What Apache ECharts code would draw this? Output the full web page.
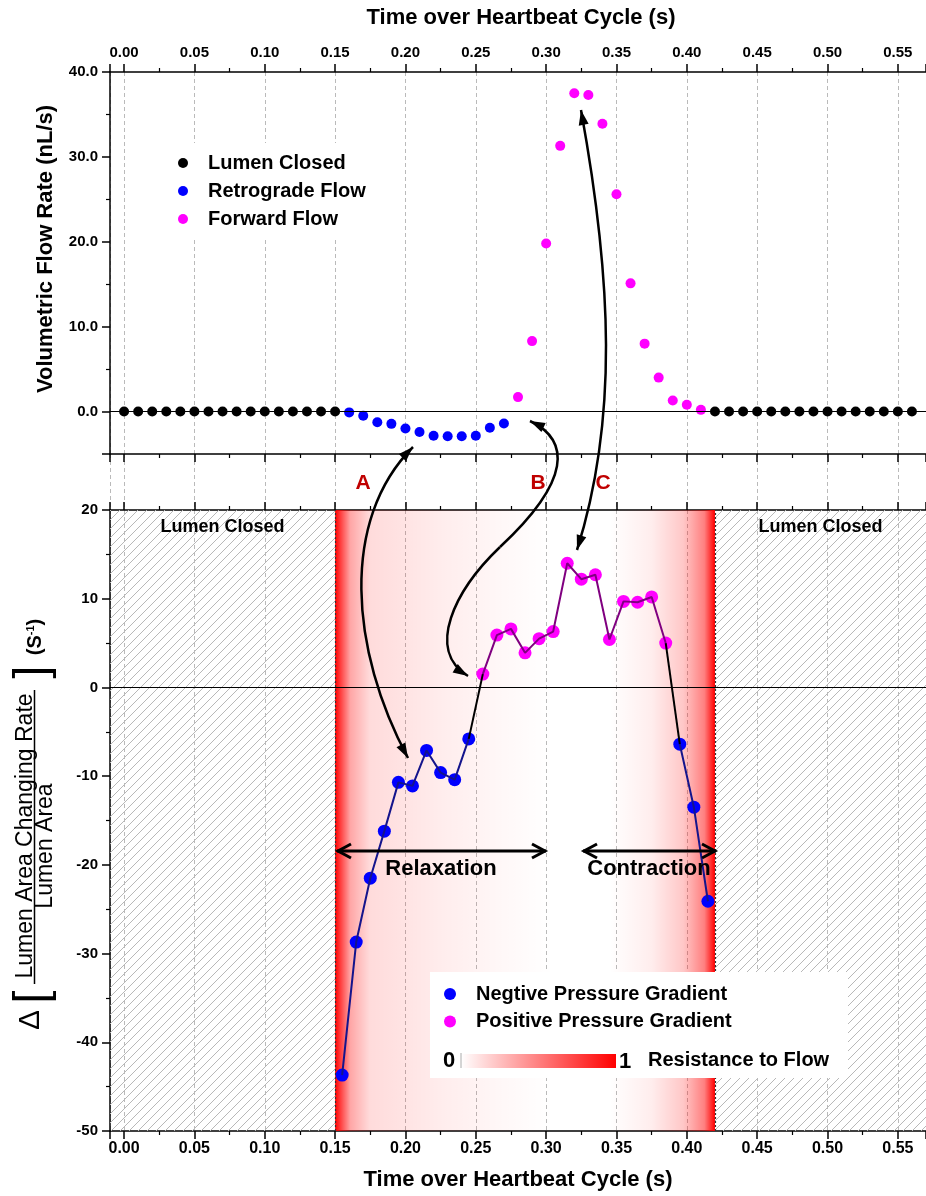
<!DOCTYPE html>
<html><head><meta charset="utf-8">
<script src="https://cdn.jsdelivr.net/npm/echarts@6/dist/echarts.min.js"></script>
<style>html,body{margin:0;padding:0;background:#fff}#c{width:926px;height:1196px}</style>
</head><body><div id="c"></div>
<script>
// ---------- data: top chart (volumetric flow rate, nL/s) ----------
const closedTimesA = [0.00,0.01,0.02,0.03,0.04,0.05,0.06,0.07,0.08,0.09,0.10,0.11,0.12,0.13,0.14,0.15];
const closedFlowA  = [0,0,0,0,0,0,0,0,0,0,0,0,0,0,0,0];
const retroTimes   = [0.16,0.17,0.18,0.19,0.20,0.21,0.22,0.23,0.24,0.25,0.26,0.27];
const retroFlow    = [-0.1,-0.5,-1.25,-1.45,-2.0,-2.4,-2.85,-2.9,-2.9,-2.85,-1.9,-1.4];
const fwdTimes     = [0.28,0.29,0.30,0.31,0.32,0.33,0.34,0.35,0.36,0.37,0.38,0.39,0.40,0.41];
const fwdFlow      = [1.7,8.3,19.8,31.3,37.5,37.3,33.9,25.6,15.1,8.0,4.0,1.3,0.8,0.2];
const closedTimesB = [0.42,0.43,0.44,0.45,0.46,0.47,0.48,0.49,0.50,0.51,0.52,0.53,0.54,0.55,0.56];
const closedFlowB  = [0,0,0,0,0,0,0,0,0,0,0,0,0,0,0];

// ---------- data: bottom chart (relative lumen area change rate, 1/s) ----------
const negTimesA = [0.155,0.165,0.175,0.185,0.195,0.205,0.215,0.225,0.235,0.245];
const negRateA  = [-43.7,-28.7,-21.5,-16.2,-10.7,-11.1,-7.1,-9.6,-10.4,-5.8];
const posTimes  = [0.255,0.265,0.275,0.285,0.295,0.305,0.315,0.325,0.335,0.345,0.355,0.365,0.375,0.385];
const posRate   = [1.5,5.9,6.6,3.9,5.5,6.3,14.0,12.2,12.7,5.4,9.7,9.6,10.2,5.0];
const negTimesB = [0.395,0.405,0.415];
const negRateB  = [-6.4,-13.5,-24.1];

// ---------- regions (time, s) ----------
const closedSpans     = [[-0.01,0.15],[0.42,0.57]];
const relaxationBand  = [0.15,0.305];
const contractionBand = [0.345,0.42];
const xRange = [-0.01,0.57];

const zip = (ts, vs) => ts.map((t,i)=>[t, vs[i]]);
const F = '"Liberation Sans", Arial, sans-serif';

function hatchCanvas(){
  const c=document.createElement('canvas'); c.width=9; c.height=9;
  const g=c.getContext('2d'); g.strokeStyle='#b8b8b8'; g.lineWidth=1;
  g.beginPath();
  g.moveTo(0,9); g.lineTo(9,0);
  g.moveTo(-1,1); g.lineTo(1,-1);
  g.moveTo(8,10); g.lineTo(10,8);
  g.stroke(); return c;
}
const hatch = {image: hatchCanvas(), repeat: 'repeat'};

const chart = echarts.init(document.getElementById('c'), null, {width:926, height:1196});

const axisLineStyle = {color:'#000', width:1.5};
const gridLineStyle = {color:'#a8a8a8', type:[4,3], width:0.8};
function xAx(grid, pos, opts){
  return Object.assign({
    type:'value', gridIndex:grid, position:pos, min:xRange[0], max:xRange[1],
    minInterval:0.05, maxInterval:0.05,
    axisLine:{show:true, onZero:false, lineStyle:axisLineStyle},
    axisTick:{show:true, inside:false, length:8, lineStyle:{color:'#000', width:1.5}},
    minorTick:{show:true, splitNumber:2, length:4, lineStyle:{color:'#000', width:1.2}},
    axisLabel:{show:false},
    splitLine:{show:false}
  }, opts);
}

const option = {
  animation:false,
  backgroundColor:'#fff',
  textStyle:{fontFamily:F},
  grid:[
    {left:110, top:72, width:818, height:382},
    {left:110, top:510, width:818, height:621},
    {left:110, top:454, width:818, height:56}
  ],
  xAxis:[
    xAx(0,'top',{
      name:'Time over Heartbeat Cycle (s)', nameLocation:'middle', nameGap:43,
      nameTextStyle:{fontSize:22, fontWeight:'bold', color:'#000', fontFamily:F, padding:[0,0,0,6]},
      axisLabel:{show:true, margin:12, fontSize:15, fontWeight:'bold', color:'#000',
        showMinLabel:false, showMaxLabel:false, formatter:v=>v.toFixed(2)},
      splitLine:{show:true, lineStyle:gridLineStyle}
    }),
    xAx(0,'bottom',{}),
    xAx(1,'bottom',{
      name:'Time over Heartbeat Cycle (s)', nameLocation:'middle', nameGap:38,
      nameTextStyle:{fontSize:22, fontWeight:'bold', color:'#000', fontFamily:F},
      axisLabel:{show:true, margin:10, fontSize:16, fontWeight:'bold', color:'#000',
        showMinLabel:false, showMaxLabel:false, formatter:v=>v.toFixed(2)},
      splitLine:{show:true, lineStyle:gridLineStyle}
    }),
    xAx(1,'top',{}),
    xAx(2,'bottom',{axisLine:{show:false}, axisTick:{show:false}, minorTick:{show:false},
      splitLine:{show:true, lineStyle:gridLineStyle}})
  ],
  yAxis:[
    {type:'value', gridIndex:0, min:-5, max:40, minInterval:10, maxInterval:10,
     name:'Volumetric Flow Rate (nL/s)', nameLocation:'middle', nameGap:53,
     nameTextStyle:{fontSize:22, fontWeight:'bold', color:'#000', padding:[0,0,0,28]},
     axisLine:{show:true, onZero:false, lineStyle:axisLineStyle},
     axisTick:{show:true, length:8, lineStyle:{color:'#000', width:1.5}},
     minorTick:{show:true, splitNumber:2, length:4, lineStyle:{color:'#000', width:1.2}},
     axisLabel:{margin:12, fontSize:15, fontWeight:'bold', color:'#000', showMinLabel:false,
       formatter:v=>v.toFixed(1)},
     splitLine:{show:false}},
    {type:'value', gridIndex:1, min:-50, max:20, interval:10,
     axisLine:{show:true, onZero:false, lineStyle:axisLineStyle},
     axisTick:{show:true, length:8, lineStyle:{color:'#000', width:1.5}},
     minorTick:{show:true, splitNumber:2, length:4, lineStyle:{color:'#000', width:1.2}},
     axisLabel:{margin:12, fontSize:15, fontWeight:'bold', color:'#000'},
     splitLine:{show:false}},
    {type:'value', gridIndex:2, show:false, min:0, max:1}
  ],
  legend:[
    {data:['Lumen Closed','Retrograde Flow','Forward Flow'], orient:'vertical',
     left:178, top:143, padding:[10,15,9,0], itemWidth:40, itemHeight:10, itemGap:8,
     icon:'circle', backgroundColor:'#fff', selectedMode:false, z:20,
     textStyle:{fontSize:20, fontWeight:'bold', color:'#000', fontFamily:F}},
    {data:['Negtive Pressure Gradient','Positive Pressure Gradient'], orient:'vertical',
     left:444, top:984, padding:0, itemWidth:42, itemHeight:12, itemGap:7.5,
     icon:'circle', selectedMode:false, z:20,
     textStyle:{fontSize:20, fontWeight:'bold', color:'#000', fontFamily:F}}
  ],
  series:[
    {name:'Lumen Closed', type:'scatter', xAxisIndex:0, yAxisIndex:0, symbolSize:10,
     itemStyle:{color:'#000', opacity:1}, z:3,
     data: zip(closedTimesA, closedFlowA).concat(zip(closedTimesB, closedFlowB)),
     markLine:{silent:true, symbol:'none', label:{show:false},
       lineStyle:{color:'#000', width:1, type:'solid'}, data:[{yAxis:0}]}},
    {name:'Retrograde Flow', type:'scatter', xAxisIndex:0, yAxisIndex:0, symbolSize:10,
     itemStyle:{color:'#0000ff', opacity:1}, z:3, data: zip(retroTimes, retroFlow)},
    {name:'Forward Flow', type:'scatter', xAxisIndex:0, yAxisIndex:0, symbolSize:10,
     itemStyle:{color:'#ff00ff', opacity:1}, z:3, data: zip(fwdTimes, fwdFlow)},

    // bottom chart: background bands
    {name:'bands', type:'line', xAxisIndex:2, yAxisIndex:1, data:[], z:1, silent:true,
     markArea:{silent:true, data:[
       [{xAxis:closedSpans[0][0], name:'Lumen Closed', itemStyle:{color:hatch, opacity:1}}, {xAxis:closedSpans[0][1]}],
       [{xAxis:closedSpans[1][0], name:'Lumen Closed', itemStyle:{color:hatch, opacity:1}}, {xAxis:closedSpans[1][1]}],
       [{xAxis:relaxationBand[0], name:'', itemStyle:{opacity:1, color:new echarts.graphic.LinearGradient(0,0,1,0,[
          {offset:0,color:'rgba(255,0,0,1)'},{offset:0.02,color:'rgba(255,0,0,0.8)'},
          {offset:0.07,color:'rgba(255,0,0,0.35)'},{offset:0.16,color:'rgba(255,0,0,0.14)'},
          {offset:0.5,color:'rgba(255,0,0,0.07)'},{offset:0.75,color:'rgba(255,0,0,0.03)'},
          {offset:1,color:'rgba(255,0,0,0)'}])}}, {xAxis:relaxationBand[1]}],
       [{xAxis:contractionBand[0], name:'', itemStyle:{opacity:1, color:new echarts.graphic.LinearGradient(0,0,1,0,[
          {offset:0,color:'rgba(255,0,0,0)'},{offset:0.4,color:'rgba(255,0,0,0.07)'},
          {offset:0.7,color:'rgba(255,0,0,0.22)'},{offset:0.9,color:'rgba(255,0,0,0.5)'},
          {offset:0.97,color:'rgba(255,0,0,0.85)'},{offset:1,color:'rgba(255,0,0,1)'}])}}, {xAxis:contractionBand[1]}]
     ],
     label:{show:true, position:'insideTop', distance:8, fontSize:18, fontWeight:'bold', color:'#000', fontFamily:F}},
     markLine:{silent:true, symbol:'none', label:{show:false}, data:[
       {yAxis:0, lineStyle:{color:'#000', width:1, type:'solid'}},
       {xAxis:closedSpans[0][1], lineStyle:{color:'#333', width:1.2, type:[2,2]}},
       {xAxis:closedSpans[1][0], lineStyle:{color:'#333', width:1.2, type:[2,2]}}
     ]}},

    // bottom chart: markers
    {name:'Negtive Pressure Gradient', type:'scatter', xAxisIndex:2, yAxisIndex:1, symbolSize:13,
     itemStyle:{color:'#0000ff', opacity:1}, z:3, data: zip(negTimesA, negRateA).concat(zip(negTimesB, negRateB))},
    {name:'Positive Pressure Gradient', type:'scatter', xAxisIndex:2, yAxisIndex:1, symbolSize:13,
     itemStyle:{color:'#ff00ff', opacity:1}, z:3, data: zip(posTimes, posRate)},
    // bottom chart: connecting lines (drawn over markers)
    {name:'negLineA', type:'line', xAxisIndex:2, yAxisIndex:1, showSymbol:false, symbol:'none', z:4,
     lineStyle:{color:'#14148c', width:2}, data: zip(negTimesA, negRateA)},
    {name:'posLine', type:'line', xAxisIndex:2, yAxisIndex:1, showSymbol:false, symbol:'none', z:4,
     lineStyle:{color:'#800080', width:2}, data: zip(posTimes, posRate)},
    {name:'negLineB', type:'line', xAxisIndex:2, yAxisIndex:1, showSymbol:false, symbol:'none', z:4,
     lineStyle:{color:'#14148c', width:2}, data: zip(negTimesB, negRateB)},
    {name:'linkA', type:'line', xAxisIndex:2, yAxisIndex:1, showSymbol:false, symbol:'none', z:4,
     lineStyle:{color:'#000', width:2},
     data:[[negTimesA[negTimesA.length-1], negRateA[negRateA.length-1]], [posTimes[0], posRate[0]]]},
    {name:'linkB', type:'line', xAxisIndex:2, yAxisIndex:1, showSymbol:false, symbol:'none', z:4,
     lineStyle:{color:'#000', width:2},
     data:[[posTimes[posTimes.length-1], posRate[posRate.length-1]], [negTimesB[0], negRateB[0]]]}
  ]
};

// ---------- annotations ----------
const G = [];
function txt(x,y,text,size,weight,color,align,rot,extra){
  const st = Object.assign({text:text, fill:color||'#000',
    font:(weight||'normal')+' '+size+'px '+F,
    align:align||'center', verticalAlign:'middle',
    textAlign:align||'center', textVerticalAlign:'middle'}, extra||{});
  G.push({type:'text', x:x, y:y, rotation:rot||0, z:30, silent:true, style:st});
}
function head(tip, from, L, w){
  const dx=tip[0]-from[0], dy=tip[1]-from[1], d=Math.hypot(dx,dy), ux=dx/d, uy=dy/d;
  const bx=tip[0]-ux*L, by=tip[1]-uy*L;
  G.push({type:'polygon', z:30, silent:true, shape:{points:[tip,[bx-uy*w,by+ux*w],[bx+uy*w,by-ux*w]]},
    style:{fill:'#000'}});
}
function curve(p0,p1,p2,p3,h0,h3){
  G.push({type:'bezierCurve', z:30, silent:true,
    shape:{x1:p0[0],y1:p0[1],cpx1:p1[0],cpy1:p1[1],cpx2:p2[0],cpy2:p2[1],x2:p3[0],y2:p3[1]},
    style:{stroke:'#000', lineWidth:2.5, fill:null}});
  if(h0) head(p0,p1,15,5);
  if(h3) head(p3,p2,15,5);
}
function dblArrow(x1,x2,y){
  G.push({type:'line', z:30, silent:true, shape:{x1:x1,y1:y,x2:x2,y2:y}, style:{stroke:'#000', lineWidth:3}});
  G.push({type:'polyline', z:30, silent:true, shape:{points:[[x1+14,y-7],[x1+1,y],[x1+14,y+7]]}, style:{stroke:'#000', lineWidth:3, fill:null}});
  G.push({type:'polyline', z:30, silent:true, shape:{points:[[x2-14,y-7],[x2-1,y],[x2-14,y+7]]}, style:{stroke:'#000', lineWidth:3, fill:null}});
}
// curved arrows linking the two panels
curve([413,447],[340,520],[350,650],[408,758], true, true);            // A
curve([530,421],[570,440],[572,480],[500,547], true, false);           // B (upper part)
curve([500,547],[455,590],[425,650],[468,676], false, true);           // B (lower part)
curve([581,110],[612,280],[618,420],[577,550], true, true);            // C
txt(363,483,'A',21,'bold','#c00000');
txt(538,483,'B',21,'bold','#c00000');
txt(603,483,'C',21,'bold','#c00000');
// relaxation / contraction
dblArrow(337,546,851);
dblArrow(583,716,851);
txt(441,869,'Relaxation',22,'bold');
txt(649,869,'Contraction',22,'bold');
// bottom legend box + colour bar
G.push({type:'rect', z:10, silent:true, shape:{x:430,y:972,width:418,height:106}, style:{fill:'#fff'}});
G.push({type:'rect', z:21, silent:true, shape:{x:461,y:1054,width:155,height:14},
  style:{fill:new echarts.graphic.LinearGradient(0,0,1,0,[{offset:0,color:'#ffffff'},{offset:1,color:'#ff0000'}])}});
G.push({type:'line', z:22, silent:true, shape:{x1:461,y1:1053,x2:461,y2:1068}, style:{stroke:'#aaa', lineWidth:1}});
txt(449,1061,'0',22,'bold');
txt(625,1062,'1',22,'bold');
txt(648,1060,'Resistance to Flow',20,'bold','#000','left');
// bottom y-axis title (rotated)
txt(31,1020,'Δ',30,'normal','#000','center',Math.PI/2);
txt(33,997,'[',46,'normal','#000','center',Math.PI/2);
txt(25.5,836,'Lumen Area Changing Rate',23,'normal','#000','center',Math.PI/2);
G.push({type:'line', z:30, silent:true, shape:{x1:34.5,y1:690,x2:34.5,y2:984}, style:{stroke:'#000', lineWidth:1.5}});
txt(46,846,'Lumen Area',23,'normal','#000','center',Math.PI/2);
txt(33,672,']',46,'normal','#000','center',Math.PI/2);
G.push({type:'text', x:35, y:637, rotation:Math.PI/2, z:30, silent:true,
  style:{text:'(S{sup|-1})', fill:'#000', font:'bold 20px '+F, align:'center', verticalAlign:'middle',
    textAlign:'center', textVerticalAlign:'middle',
    rich:{sup:{fontSize:11, fontWeight:'bold', verticalAlign:'top', padding:[0,0,8,0], fill:'#000', fontFamily:F}}}});

option.graphic = {elements: G};
chart.setOption(option);
</script>
</body></html>
